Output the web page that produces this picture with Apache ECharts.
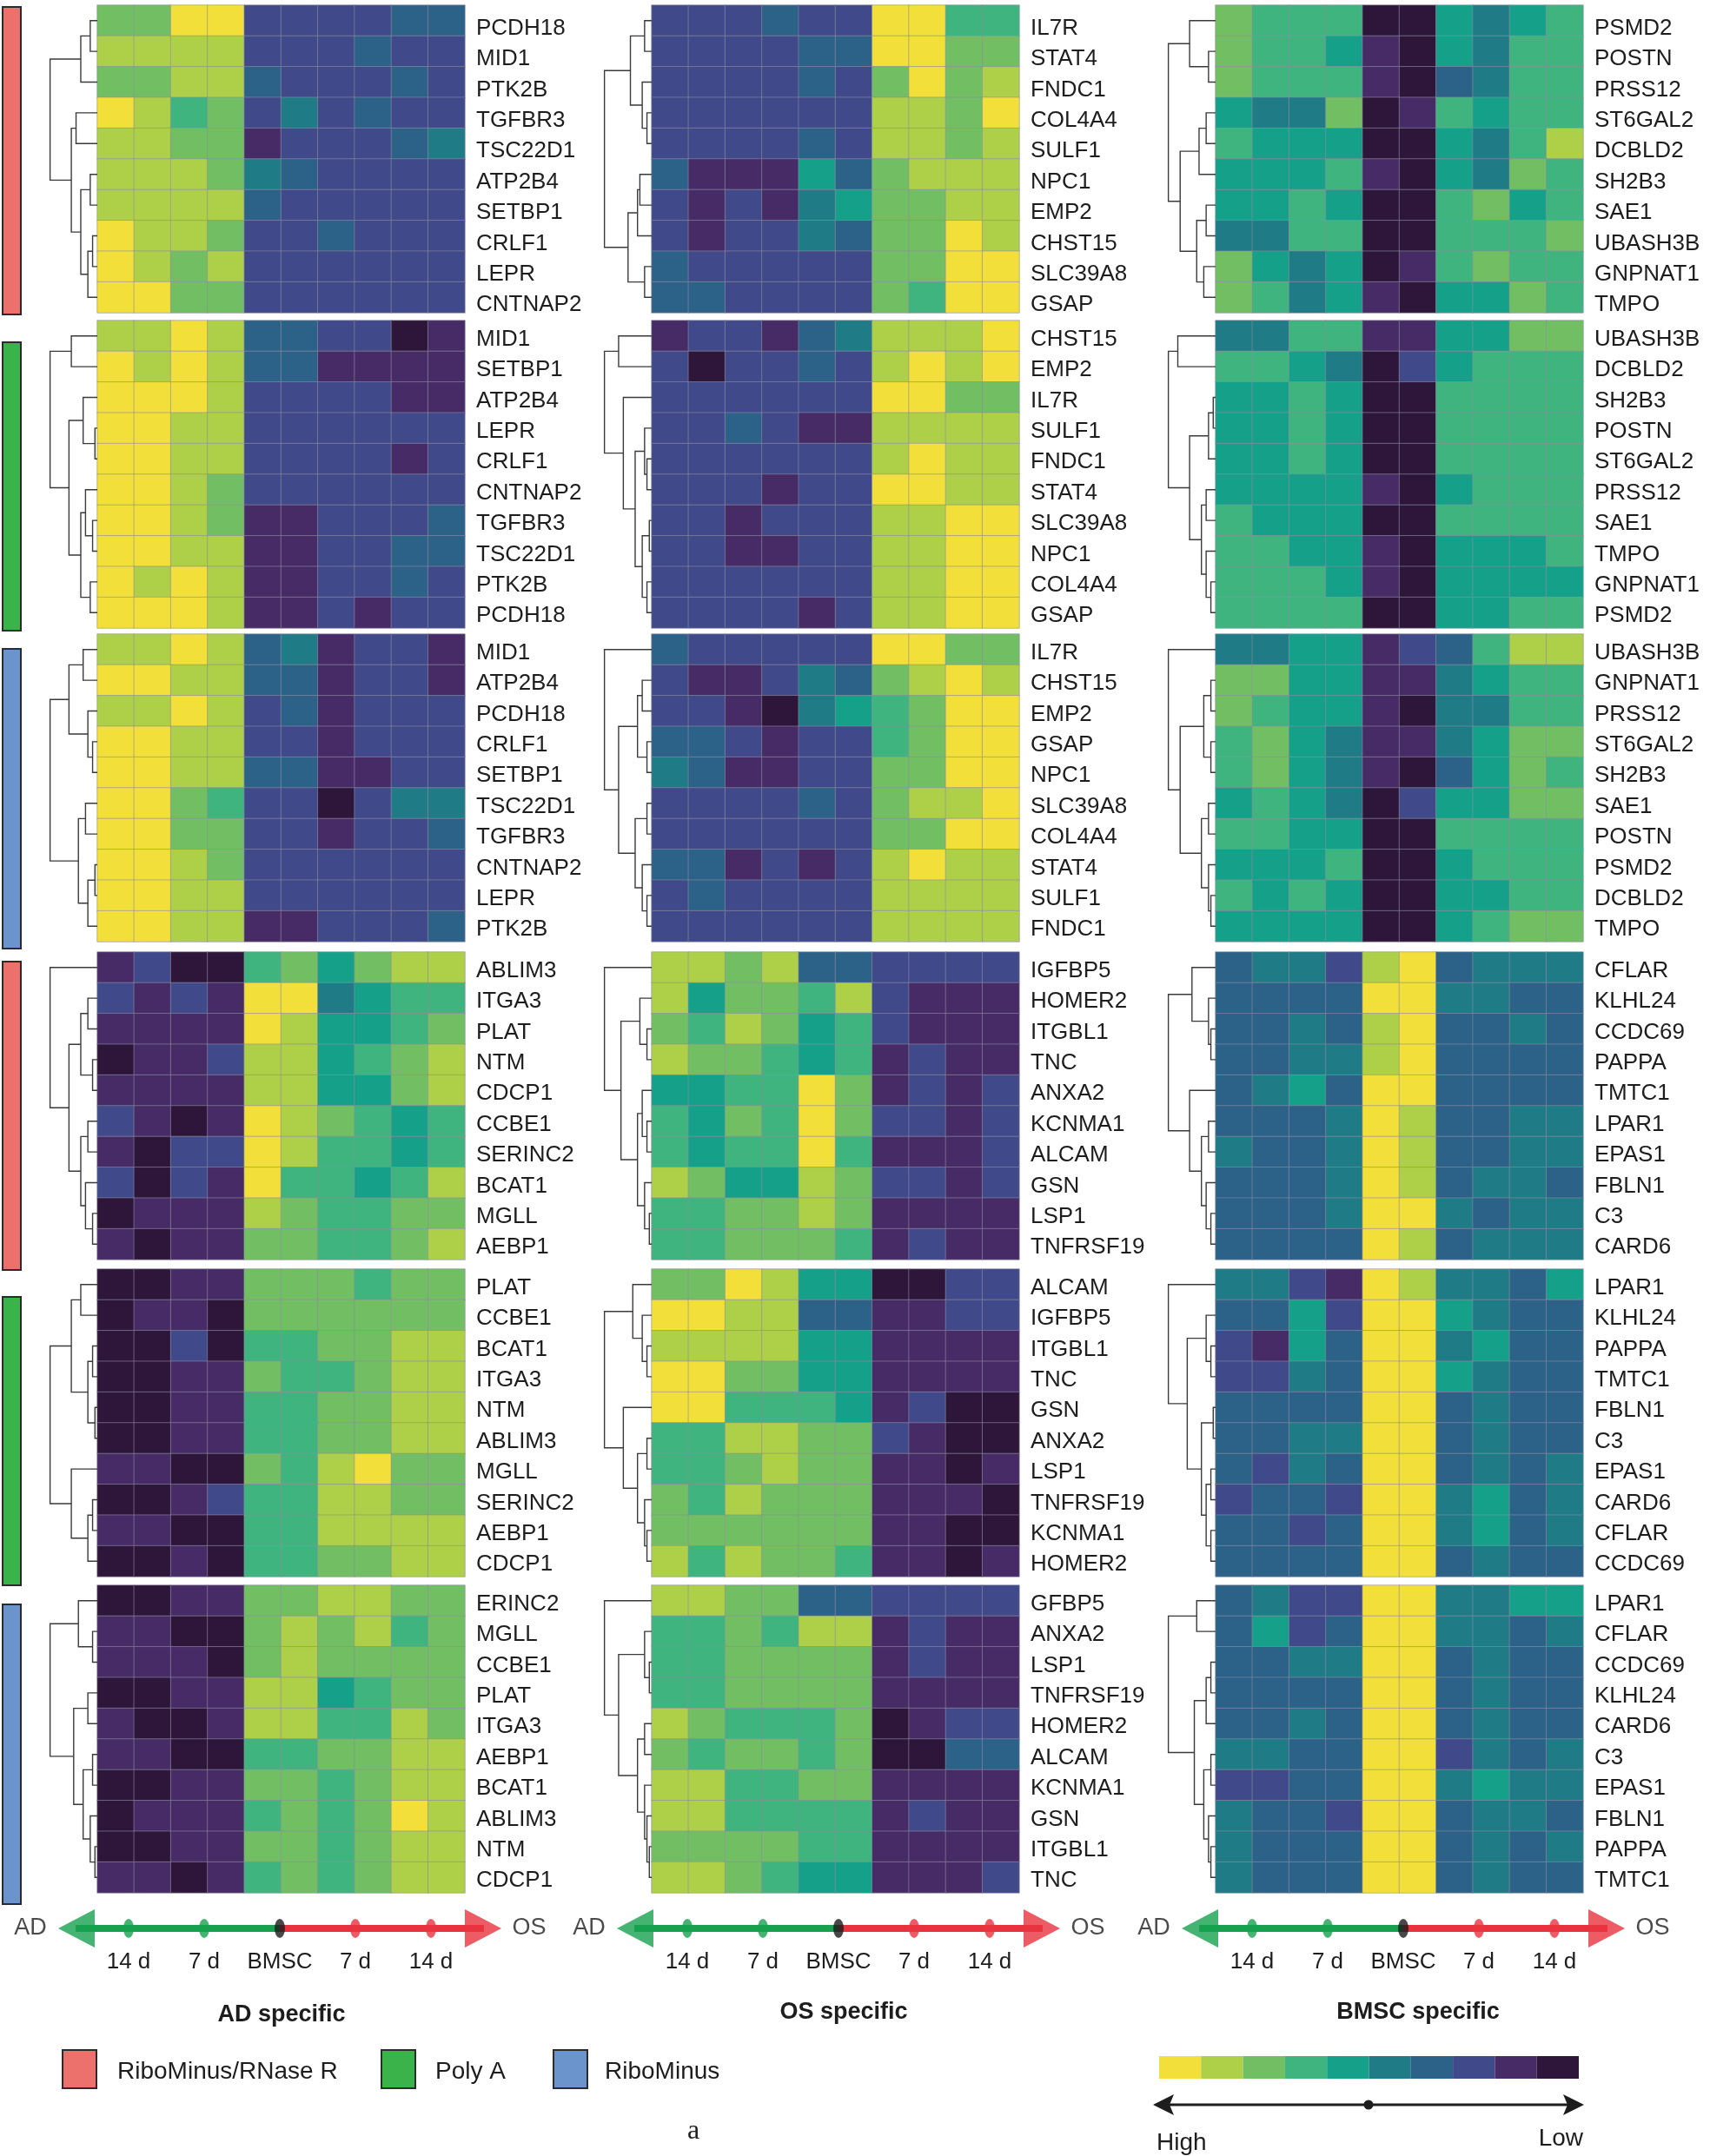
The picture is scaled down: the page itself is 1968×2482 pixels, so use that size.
<!DOCTYPE html>
<html lang="en">
<head>
<meta charset="UTF-8">
<title>AD / OS / BMSC specific genes</title>
<script src="https://cdn.jsdelivr.net/npm/echarts@6/dist/echarts.min.js"></script>
<style>body{margin:0;background:#fff;}</style>
</head>
<body>
<div id="main" style="width:1968px;height:2482px;"></div>
<script>
// expression level classes: 1 = high (yellow) ... 10 = low (dark purple)
var levelColors = ['#f2df3a', '#aecf48', '#72bf63', '#3fb47e', '#15a08a', '#1f7b86', '#2c6188', '#40498a', '#472b66', '#2e163a'];
var sampleCols = ['AD14a', 'AD14b', 'AD7a', 'AD7b', 'BMSCa', 'BMSCb', 'OS7a', 'OS7b', 'OS14a', 'OS14b'];

// timeline
var timePos = [-2, -1, 0, 1, 2];
var timeLabels = ['14 d', '7 d', 'BMSC', '7 d', '14 d'];

// ---- row 1 (RiboMinus/RNase R)
var genes11 = ['PCDH18', 'MID1', 'PTK2B', 'TGFBR3', 'TSC22D1', 'ATP2B4', 'SETBP1', 'CRLF1', 'LEPR', 'CNTNAP2'];
var vals11 = [[3,3,1,1,8,8,8,8,7,7],[2,2,2,2,8,8,8,7,8,8],[3,3,2,2,7,8,8,8,7,8],[1,2,4,3,8,6,8,7,8,8],[2,2,3,3,9,8,8,8,7,6],
  [2,2,2,3,6,7,8,8,8,8],[2,2,2,2,7,8,8,8,8,8],[1,2,2,3,8,8,7,8,8,8],[1,2,3,2,8,8,8,8,8,8],[1,1,3,3,8,8,8,8,8,8]];
var tree11 = [[[0,1,.15],2,.35],[[3,4,.45],[[5,6,.15],[[7,8,.1],9,.2],.35],.55],1];

var genes12 = ['IL7R', 'STAT4', 'FNDC1', 'COL4A4', 'SULF1', 'NPC1', 'EMP2', 'CHST15', 'SLC39A8', 'GSAP'];
var vals12 = [[8,8,8,7,8,8,1,1,4,4],[8,8,8,8,7,7,1,1,3,3],[8,8,8,8,7,8,3,1,3,2],[8,8,8,8,8,8,2,2,3,1],[8,8,8,8,7,8,2,2,3,2],
  [7,9,9,9,5,7,3,2,2,2],[8,9,8,9,6,5,3,3,2,2],[8,9,8,8,6,7,3,3,1,2],[7,8,8,8,8,8,3,3,1,1],[7,7,8,8,8,8,3,4,1,1]];
var tree12 = [[[0,1,.15],[2,[3,4,.1],.2],.45],[[[5,6,.25],7,.3],[8,9,.15],.5],1];

var genes13 = ['PSMD2', 'POSTN', 'PRSS12', 'ST6GAL2', 'DCBLD2', 'SH2B3', 'SAE1', 'UBASH3B', 'GNPNAT1', 'TMPO'];
var vals13 = [[3,4,4,4,10,10,5,6,5,4],[3,4,4,5,9,10,5,6,4,4],[3,4,4,4,9,10,7,6,4,4],[5,6,6,3,10,9,4,5,4,4],[4,5,5,5,10,10,5,6,4,2],
  [5,5,5,4,9,10,5,6,3,4],[5,5,4,5,10,10,4,3,5,4],[6,6,4,4,10,10,4,4,4,3],[3,5,6,5,10,9,4,3,4,4],[3,4,6,5,9,10,5,5,3,4]];
var tree13 = [[0,[1,2,.15],.55],[[[3,4,.2],5,.35],[[6,7,.2],[8,9,.25],.4],.75],1];

// ---- row 2 (Poly A)
var genes21 = ['MID1', 'SETBP1', 'ATP2B4', 'LEPR', 'CRLF1', 'CNTNAP2', 'TGFBR3', 'TSC22D1', 'PTK2B', 'PCDH18'];
var vals21 = [[2,2,1,2,7,7,8,8,10,9],[1,2,1,2,7,7,9,9,9,9],[1,1,1,2,8,8,8,8,9,9],[1,1,2,2,8,8,8,8,8,8],[1,1,2,2,8,8,8,8,9,8],
  [1,1,2,3,8,8,8,8,8,8],[1,1,2,3,9,9,8,8,8,7],[1,1,2,2,9,9,8,8,7,7],[1,2,1,2,9,9,8,8,7,8],[1,1,1,2,9,9,8,9,8,8]];
var tree21 = [[0,1,.55],[[2,[3,4,.05],.3],[[5,[6,7,.1],.25],[8,9,.15],.35],.6],1];

var genes22 = ['CHST15', 'EMP2', 'IL7R', 'SULF1', 'FNDC1', 'STAT4', 'SLC39A8', 'NPC1', 'COL4A4', 'GSAP'];
var vals22 = [[9,8,8,9,7,6,2,2,2,1],[8,10,8,8,7,8,2,1,2,1],[8,8,8,8,8,8,1,1,3,3],[8,8,7,8,9,9,2,2,2,2],[8,8,8,8,8,8,2,1,2,2],
  [8,8,8,9,8,8,1,1,2,2],[8,8,9,8,8,8,2,2,1,1],[8,8,9,9,8,8,2,2,1,1],[8,8,8,8,8,8,2,2,1,1],[8,8,8,8,9,8,2,2,1,1]];
var tree22 = [[0,1,.7],[2,[[3,[4,5,.1],.15],[[6,7,.05],[8,9,.1],.2],.35],.6],1];

var genes23 = ['UBASH3B', 'DCBLD2', 'SH2B3', 'POSTN', 'ST6GAL2', 'PRSS12', 'SAE1', 'TMPO', 'GNPNAT1', 'PSMD2'];
var vals23 = [[6,6,4,4,9,9,5,5,3,3],[4,4,5,6,10,8,5,4,4,4],[5,5,4,5,10,10,4,4,4,4],[5,5,4,5,10,10,4,4,4,4],[5,5,4,5,10,10,4,4,4,4],
  [5,5,5,5,9,10,5,4,4,4],[4,5,5,5,10,10,4,4,4,4],[4,4,5,5,9,10,5,5,5,4],[4,4,4,5,9,10,5,5,5,5],[4,4,4,4,10,10,5,5,4,4]];
var tree23 = [[0,1,.8],[[[2,3,.05],4,.15],[[5,6,.2],[7,[8,9,.1],.2],.3],.55],1];

// ---- row 3 (RiboMinus)
var genes31 = ['MID1', 'ATP2B4', 'PCDH18', 'CRLF1', 'SETBP1', 'TSC22D1', 'TGFBR3', 'CNTNAP2', 'LEPR', 'PTK2B'];
var vals31 = [[2,2,1,2,7,6,9,8,8,9],[1,1,2,2,7,7,9,8,8,9],[2,2,1,2,8,7,9,8,8,8],[1,1,2,2,8,8,9,8,8,8],[1,1,2,2,7,7,9,9,8,8],
  [1,1,3,4,8,8,10,8,6,6],[1,1,3,3,8,8,9,8,8,7],[1,1,2,3,8,8,8,8,8,8],[1,1,2,2,8,8,8,8,8,8],[1,1,2,2,9,9,8,8,8,7]];
var tree31 = [[[0,1,.3],[2,[3,4,.1],.2],.6],[[5,6,.25],[[7,8,.05],9,.2],.4],1];

var genes32 = ['IL7R', 'CHST15', 'EMP2', 'GSAP', 'NPC1', 'SLC39A8', 'COL4A4', 'STAT4', 'SULF1', 'FNDC1'];
var vals32 = [[7,8,8,8,8,8,1,1,3,3],[8,9,9,8,6,7,3,2,1,2],[8,8,9,10,6,5,4,3,1,1],[7,7,8,9,8,8,4,3,1,1],[6,7,9,9,8,8,3,3,1,1],
  [8,8,8,8,7,8,3,2,2,1],[8,8,8,8,8,8,3,3,1,1],[7,7,9,8,9,8,2,1,2,2],[8,7,8,8,8,8,2,2,2,2],[8,8,8,8,8,8,2,2,2,2]];
var tree32 = [0,[[[1,2,.2],[3,4,.1],.3],[[5,6,.1],[7,[8,9,.1],.2],.35],.7],1];

var genes33 = ['UBASH3B', 'GNPNAT1', 'PRSS12', 'ST6GAL2', 'SH2B3', 'SAE1', 'POSTN', 'PSMD2', 'DCBLD2', 'TMPO'];
var vals33 = [[6,6,5,5,9,8,7,4,2,2],[3,3,5,5,9,9,6,5,4,4],[3,4,5,5,9,10,6,6,4,4],[4,3,5,6,9,9,6,5,3,3],[4,3,5,6,9,10,7,5,3,4],
  [5,4,5,6,10,8,5,5,3,3],[4,4,5,5,10,10,4,4,4,4],[5,5,5,4,10,10,5,4,4,4],[4,5,4,5,10,10,5,5,4,4],[5,5,5,5,10,10,5,4,3,3]];
var tree33 = [0,[[[1,2,.1],[3,4,.1],.25],[[5,6,.15],[7,[8,9,.1],.15],.3],.75],1];

// ---- row 4 (RiboMinus/RNase R)
var genes41 = ['ABLIM3', 'ITGA3', 'PLAT', 'NTM', 'CDCP1', 'CCBE1', 'SERINC2', 'BCAT1', 'MGLL', 'AEBP1'];
var vals41 = [[9,8,10,10,4,3,5,3,2,2],[8,9,8,9,1,1,6,5,4,4],[9,9,9,9,1,2,5,5,4,3],[10,9,9,8,2,2,5,4,3,2],[9,9,9,9,2,2,5,5,3,2],
  [8,9,10,9,1,2,3,4,5,4],[9,10,8,8,1,2,4,4,5,4],[8,10,8,9,1,4,4,5,4,2],[10,9,9,9,2,3,4,4,3,3],[9,10,9,9,3,3,4,4,3,2]];
var tree41 = [0,[[[1,2,.2],[3,4,.1],.35],[[5,6,.2],[7,[8,9,.1],.25],.35],.6],1];

var genes42 = ['IGFBP5', 'HOMER2', 'ITGBL1', 'TNC', 'ANXA2', 'KCNMA1', 'ALCAM', 'GSN', 'LSP1', 'TNFRSF19'];
var vals42 = [[2,2,3,2,7,7,8,8,8,8],[2,5,3,3,4,2,8,9,9,9],[3,4,2,3,5,4,8,9,9,9],[2,3,3,4,5,4,9,8,9,9],[5,5,4,4,1,3,9,8,9,8],
  [4,5,3,4,1,3,8,8,9,8],[4,5,4,4,1,4,9,9,9,8],[2,3,5,5,2,3,8,8,9,8],[4,4,3,3,2,3,9,9,9,9],[4,4,3,3,3,4,9,8,9,9]];
var tree42 = [0,[[1,[2,3,.1],.25],[[4,[5,6,.1],.2],[7,[8,9,.05],.15],.3],.65],1];

var genes43 = ['CFLAR', 'KLHL24', 'CCDC69', 'PAPPA', 'TMTC1', 'LPAR1', 'EPAS1', 'FBLN1', 'C3', 'CARD6'];
var vals43 = [[7,6,6,8,2,1,7,6,6,6],[7,7,7,7,1,1,6,6,7,7],[7,7,6,7,2,1,7,7,6,7],[7,7,6,6,2,1,7,7,7,7],[7,6,5,7,1,1,7,7,7,7],
  [7,7,7,6,1,2,7,7,6,6],[6,7,7,6,1,2,7,7,6,6],[7,7,7,6,1,2,7,6,6,7],[7,7,7,6,1,1,6,7,6,6],[7,7,7,7,1,2,7,6,6,6]];
var tree43 = [[0,[1,[2,3,.1],.15],.5],[4,[[5,6,.15],[7,[8,9,.1],.2],.3],.55],1];

// ---- row 5 (Poly A)
var genes51 = ['PLAT', 'CCBE1', 'BCAT1', 'ITGA3', 'NTM', 'ABLIM3', 'MGLL', 'SERINC2', 'AEBP1', 'CDCP1'];
var vals51 = [[10,10,9,9,3,3,3,4,3,3],[10,9,9,10,3,3,3,3,3,3],[10,10,8,10,4,4,3,3,2,2],[10,10,9,9,3,4,4,3,2,2],[10,10,9,9,4,4,3,3,2,2],
  [10,10,9,9,4,4,3,3,2,2],[9,9,10,10,3,4,2,1,3,3],[10,10,9,8,4,4,2,2,3,3],[9,9,10,10,4,4,2,2,2,2],[10,10,9,10,4,4,3,3,2,2]];
var tree51 = [[[0,1,.35],[[2,3,.1],[4,5,.05],.2],.55],[6,[[7,8,.1],9,.2],.55],1];

var genes52 = ['ALCAM', 'IGFBP5', 'ITGBL1', 'TNC', 'GSN', 'ANXA2', 'LSP1', 'TNFRSF19', 'KCNMA1', 'HOMER2'];
var vals52 = [[3,3,1,2,5,5,10,10,8,8],[1,1,2,2,7,7,9,9,8,8],[2,2,2,2,5,5,9,9,9,9],[1,1,3,3,5,5,9,9,9,9],[1,1,4,4,4,5,9,8,10,10],
  [4,4,2,2,3,3,8,9,10,10],[4,4,3,2,3,3,9,9,10,9],[3,4,2,3,3,3,9,9,9,10],[3,3,3,3,3,3,9,9,10,10],[2,4,2,3,3,4,9,9,10,9]];
var tree52 = [[0,[1,[2,3,.1],.2],.4],[4,[[5,6,.1],[7,[8,9,.1],.15],.3],.6],1];

var genes53 = ['LPAR1', 'KLHL24', 'PAPPA', 'TMTC1', 'FBLN1', 'C3', 'EPAS1', 'CARD6', 'CFLAR', 'CCDC69'];
var vals53 = [[6,6,8,9,1,2,6,6,7,5],[7,7,5,8,1,1,5,6,7,7],[8,9,5,7,1,1,6,5,7,7],[8,8,6,7,1,1,5,6,7,7],[7,7,7,7,1,1,7,6,7,7],
  [7,7,6,6,1,1,7,6,7,7],[7,8,6,7,1,1,7,6,7,6],[8,7,7,8,1,1,6,5,7,6],[7,7,8,7,1,1,6,5,7,6],[7,7,7,7,1,1,7,6,7,7]];
var tree53 = [0,[[1,[2,3,.1],.2],[[4,5,.05],[[6,7,.1],[8,9,.1],.2],.3],.6],1];

// ---- row 6 (RiboMinus)
var genes61 = ['ERINC2', 'MGLL', 'CCBE1', 'PLAT', 'ITGA3', 'AEBP1', 'BCAT1', 'ABLIM3', 'NTM', 'CDCP1'];
var vals61 = [[10,10,9,9,3,3,2,2,3,3],[9,9,10,10,3,2,3,2,4,3],[9,9,9,10,3,2,3,3,3,3],[10,10,9,9,2,2,5,4,3,3],[9,10,10,9,2,2,4,4,2,3],
  [9,9,10,10,4,4,3,3,2,2],[10,10,9,9,3,3,4,3,2,2],[10,9,9,9,4,3,4,3,1,2],[10,10,9,9,3,3,4,3,2,2],[9,9,10,9,4,3,4,3,2,2]];
var tree61 = [[0,[1,2,.1],.4],[[3,4,.2],[[5,6,.1],[7,[8,9,.05],.15],.3],.5],1];

var genes62 = ['GFBP5', 'ANXA2', 'LSP1', 'TNFRSF19', 'HOMER2', 'ALCAM', 'KCNMA1', 'GSN', 'ITGBL1', 'TNC'];
var vals62 = [[2,2,3,3,7,7,8,8,8,8],[4,4,3,4,2,2,9,8,9,9],[4,4,3,3,3,3,9,8,9,9],[4,4,3,3,3,3,9,9,9,9],[2,3,4,4,4,3,10,9,8,8],
  [3,4,3,3,4,3,10,10,7,7],[2,2,4,4,3,3,9,9,9,9],[2,2,4,4,4,4,9,8,9,9],[3,3,3,3,4,4,9,9,9,9],[2,2,3,4,5,5,9,9,9,8]];
var tree62 = [0,[[1,[2,3,.05],.15],[[4,5,.15],[6,[7,[8,9,.05],.1],.15],.3],.7],1];

var genes63 = ['LPAR1', 'CFLAR', 'CCDC69', 'KLHL24', 'CARD6', 'C3', 'EPAS1', 'FBLN1', 'PAPPA', 'TMTC1'];
var vals63 = [[7,6,8,8,1,1,6,6,5,5],[7,5,8,7,1,1,6,6,7,6],[7,7,6,6,1,1,7,6,7,7],[7,7,7,7,1,1,7,6,7,7],[7,7,6,7,1,1,7,6,7,7],
  [6,6,7,7,1,1,8,6,7,6],[8,8,7,7,1,1,6,5,6,6],[6,7,7,8,1,1,7,6,6,7],[6,7,7,7,1,1,7,6,7,6],[6,7,7,7,1,1,7,6,7,7]];
var tree63 = [[0,1,.4],[[[2,3,.1],4,.2],[[5,6,.1],[7,[8,9,.1],.15],.25],.45],1];

var panels = [
  [genes11, vals11, tree11], [genes12, vals12, tree12], [genes13, vals13, tree13],
  [genes21, vals21, tree21], [genes22, vals22, tree22], [genes23, vals23, tree23],
  [genes31, vals31, tree31], [genes32, vals32, tree32], [genes33, vals33, tree33],
  [genes41, vals41, tree41], [genes42, vals42, tree42], [genes43, vals43, tree43],
  [genes51, vals51, tree51], [genes52, vals52, tree52], [genes53, vals53, tree53],
  [genes61, vals61, tree61], [genes62, vals62, tree62], [genes63, vals63, tree63]
];

// layout
var colLeft = [112, 750, 1399];
var rowTop = [6, 369, 730, 1096, 1461, 1825];
var labelShift = [9, 4, 4, 4, 4, 4];   // gene labels sit a little below the cell centre
var hmW = 423, hmH = 354, dendW = 56;
var font = 'Liberation Sans, Arial, sans-serif';
var ink = '#1d1d1d';

var grid = [], xAxis = [], yAxis = [], series = [];

// heatmaps
panels.forEach(function (p, i) {
  var r = Math.floor(i / 3), c = i % 3;
  grid.push({left: colLeft[c], top: rowTop[r], width: hmW, height: hmH});
  xAxis.push({gridIndex: i, type: 'category', data: sampleCols, show: false});
  yAxis.push({
    gridIndex: i, type: 'category', data: p[0], inverse: true, position: 'right',
    axisLine: {show: false}, axisTick: {show: false},
    axisLabel: {margin: 13, fontSize: 26, color: ink, fontFamily: font,
      verticalAlign: 'top', lineHeight: labelShift[r] * 2}
  });
  var data = [];
  p[1].forEach(function (row, y) {
    row.forEach(function (v, x) { data.push([x, y, v]); });
  });
  series.push({
    type: 'heatmap', xAxisIndex: i, yAxisIndex: i, data: data,
    itemStyle: {borderColor: 'rgba(140,140,160,0.6)', borderWidth: 1},
    emphasis: {disabled: true}
  });
});

// dendrograms
function dendroSegs(node, out) {
  if (typeof node === 'number') return {y: node, h: 0};
  var a = dendroSegs(node[0], out), b = dendroSegs(node[1], out), h = node[2];
  out.push({coords: [[a.h, a.y], [h, a.y], [h, b.y], [b.h, b.y]]});
  return {y: (a.y + b.y) / 2, h: h};
}
panels.forEach(function (p, i) {
  var r = Math.floor(i / 3), c = i % 3, gi = 18 + i;
  grid.push({left: colLeft[c] - dendW, top: rowTop[r], width: dendW, height: hmH});
  xAxis.push({gridIndex: gi, type: 'value', min: 0, max: 1.03, inverse: true, show: false});
  yAxis.push({gridIndex: gi, type: 'value', min: -0.5, max: 9.5, inverse: true, show: false});
  var segs = [];
  dendroSegs(p[2], segs);
  series.push({
    type: 'lines', coordinateSystem: 'cartesian2d', xAxisIndex: gi, yAxisIndex: gi,
    polyline: true, data: segs, silent: true,
    lineStyle: {color: '#3a3a3a', width: 1.4, opacity: 1}
  });
});

// timelines under each column
var bmscX = [322, 965, 1615], unit = 87;
var green = '#17a14f', red = '#e8333f';
bmscX.forEach(function (bx, c) {
  var gi = 36 + c;
  grid.push({left: bx - 3.6 * unit, top: 2200, width: 7.2 * unit, height: 40});
  xAxis.push({
    gridIndex: gi, type: 'value', min: -3.6, max: 3.6,
    axisLine: {show: false}, axisTick: {show: false}, splitLine: {show: false},
    axisLabel: {
      customValues: timePos, margin: 6, fontSize: 26, color: ink, fontFamily: font,
      formatter: function (v) { return timeLabels[timePos.indexOf(v)]; }
    }
  });
  yAxis.push({gridIndex: gi, type: 'value', min: -1, max: 1, show: false});
  var base = {xAxisIndex: gi, yAxisIndex: gi, silent: true, animation: false};
  series.push(Object.assign({type: 'line', data: [[-2.7, 0], [0, 0]], symbol: 'none',
    lineStyle: {color: green, width: 8}, z: 2}, base));
  series.push(Object.assign({type: 'line', data: [[0, 0], [2.7, 0]], symbol: 'none',
    lineStyle: {color: red, width: 8}, z: 2}, base));
  series.push(Object.assign({type: 'scatter', symbol: 'triangle', symbolSize: [44, 42], z: 3,
    data: [{value: [-2.69, 0], symbolRotate: 90, itemStyle: {color: green}},
           {value: [2.69, 0], symbolRotate: -90, itemStyle: {color: red}}]}, base));
  series.push(Object.assign({type: 'scatter', symbolSize: [12, 22], z: 4,
    data: timePos.map(function (t) {
      return {value: [t, 0], itemStyle: {color: t < 0 ? green : (t > 0 ? red : '#1a1a1a')}};
    })}, base));
  series.push(Object.assign({type: 'scatter', symbolSize: 0, z: 4,
    label: {show: true, position: 'inside', fontSize: 27, color: ink, fontFamily: font, formatter: '{b}'},
    data: [{name: 'AD', value: [-3.3, 0]}, {name: 'OS', value: [3.3, 0]}]}, base));
});

// side bars + legend
var sideColors = ['#ec706b', '#3ab44a', '#6a94cb', '#ec706b', '#3ab44a', '#6a94cb'];
var sideTop = [8, 394, 747, 1107, 1493, 1847];
var sideBot = [362, 726, 1092, 1462, 1825, 2192];
var graphic = [];
sideColors.forEach(function (col, r) {
  graphic.push({type: 'rect', shape: {x: 3, y: sideTop[r], width: 21, height: sideBot[r] - sideTop[r]},
    style: {fill: col, stroke: '#2b2b2b', lineWidth: 2}});
});
var legendItems = [
  {name: 'RiboMinus/RNase R', color: '#ec706b', x: 72, tx: 135},
  {name: 'Poly A', color: '#3ab44a', x: 439, tx: 501},
  {name: 'RiboMinus', color: '#6a94cb', x: 637, tx: 696}
];
legendItems.forEach(function (l) {
  graphic.push({type: 'rect', shape: {x: l.x, y: 2360, width: 39, height: 44},
    style: {fill: l.color, stroke: '#2b2b2b', lineWidth: 2}});
  graphic.push({type: 'text', x: l.tx, y: 2385,
    style: {text: l.name, font: '28px ' + font, fill: ink, verticalAlign: 'middle'}});
});
[['AD specific', 324, 2320], ['OS specific', 971, 2317], ['BMSC specific', 1632, 2317]].forEach(function (t) {
  graphic.push({type: 'text', x: t[1], y: t[2],
    style: {text: t[0], font: 'bold 27px ' + font, fill: ink, align: 'center', verticalAlign: 'middle'}});
});
// High / Low arrow under colour bar
graphic.push({type: 'line', shape: {x1: 1338, y1: 2423, x2: 1812, y2: 2423}, style: {stroke: ink, lineWidth: 3}});
graphic.push({type: 'polygon', shape: {points: [[1327, 2423], [1351, 2411], [1346, 2423], [1351, 2435]]}, style: {fill: ink}});
graphic.push({type: 'polygon', shape: {points: [[1823, 2423], [1799, 2411], [1804, 2423], [1799, 2435]]}, style: {fill: ink}});
graphic.push({type: 'circle', shape: {cx: 1575, cy: 2423, r: 5.5}, style: {fill: ink}});
graphic.push({type: 'text', x: 1331, y: 2467, style: {text: 'High', font: '28px ' + font, fill: ink, verticalAlign: 'middle'}});
graphic.push({type: 'text', x: 1822, y: 2462, style: {text: 'Low', font: '28px ' + font, fill: ink, align: 'right', verticalAlign: 'middle'}});
graphic.push({type: 'text', x: 798, y: 2454, style: {text: 'a', font: '32px Liberation Serif, Times New Roman, serif', fill: ink, align: 'center', verticalAlign: 'middle'}});

var myChart = echarts.init(document.getElementById('main'));
var option = {
  animation: false,
  backgroundColor: '#ffffff',
  grid: grid,
  xAxis: xAxis,
  yAxis: yAxis,
  visualMap: {
    type: 'piecewise',
    seriesIndex: panels.map(function (p, i) { return i; }),
    dimension: 2,
    pieces: levelColors.map(function (col, k) { return {value: k + 1, color: col}; }),
    orient: 'horizontal',
    left: 1334, top: 2367,
    itemWidth: 48.3, itemHeight: 26, itemGap: 0,
    itemSymbol: 'rect',
    showLabel: false,
    selectedMode: false,
    hoverLink: false,
    padding: 0
  },
  graphic: graphic,
  series: series
};
myChart.setOption(option);
</script>
</body>
</html>
